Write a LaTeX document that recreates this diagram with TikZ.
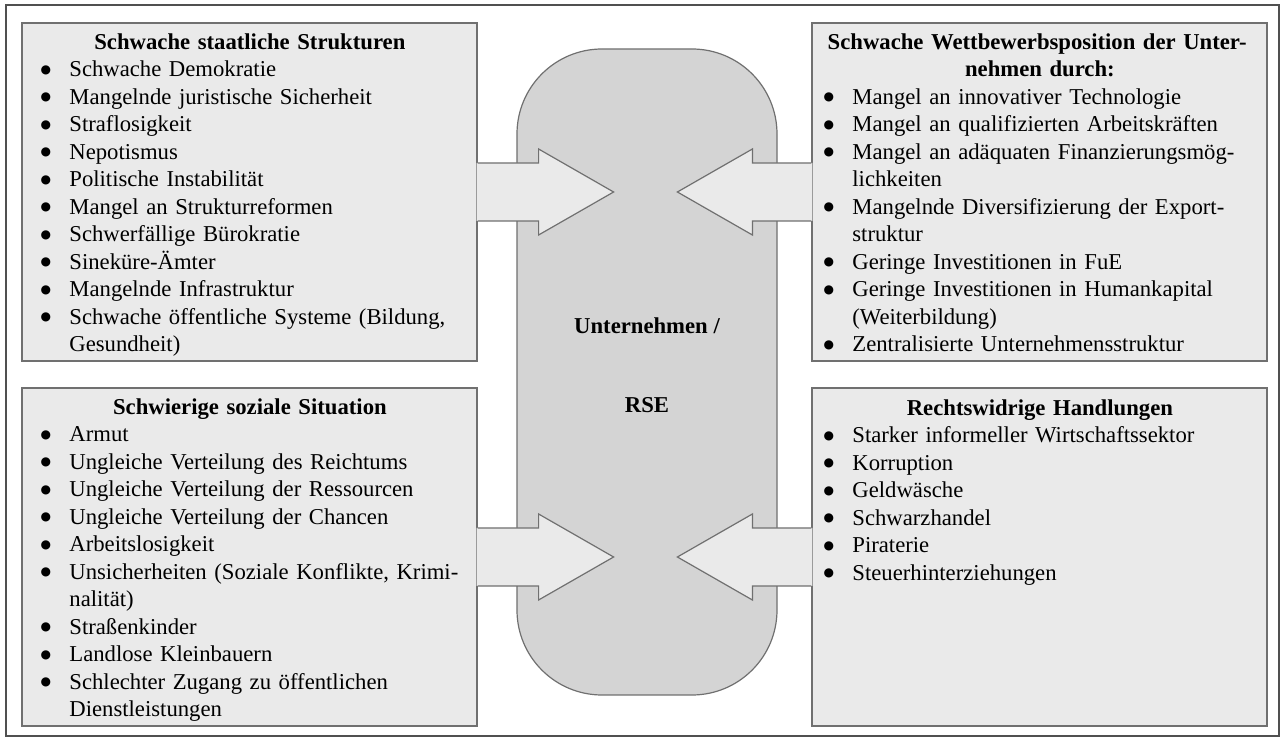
\documentclass[tikz,border=0pt]{standalone}
\usepackage{fontspec}
\setmainfont{Liberation Serif}
\newfontfamily\dotfont{DejaVu Sans}
\usetikzlibrary{calc}

\definecolor{paneFill}{RGB}{234,234,234}
\definecolor{coreFill}{RGB}{212,212,212}
\definecolor{edgeGray}{RGB}{112,112,112}
\definecolor{frameGray}{RGB}{80,80,80}

% bulleted entry, optional continuation lines, centred bold heading
\newcommand\bdot{\raisebox{1.8pt}{\fontsize{6pt}{6pt}\dotfont ●}}
\newcommand\bitem[1]{\par\noindent\hangindent=15pt\hangafter=1\strut\makebox[15pt][l]{\hspace{0.6pt}\bdot}\mbox{#1}}
\newcommand\bmore[1]{\newline\strut\mbox{#1}}
\newcommand\btitle[1]{{\noindent\centering\bfseries\strut#1\par}}

% broad block arrow: #1 start, #2 tip, #3 direction (1 = right, -1 = left)
\newcommand\fatarrow[3]{%
  \fill[fatFill] ($(#1)+(-1*#3,-29)$) -- ($(#2)+(-75*#3,-29)$) -- ($(#2)+(-75*#3,-43)$) -- (#2)
    -- ($(#2)+(-75*#3,43)$) -- ($(#2)+(-75*#3,29)$) -- ($(#1)+(-1*#3,29)$) -- cycle;
  \draw[fatEdge] ($(#1)+(0,-29)$) -- ($(#2)+(-75*#3,-29)$) -- ($(#2)+(-75*#3,-43)$) -- (#2)
    -- ($(#2)+(-75*#3,43)$) -- ($(#2)+(-75*#3,29)$) -- ($(#1)+(0,29)$);}

\tikzset{
  pane/.style={draw=edgeGray, line width=0.6pt, fill=paneFill, inner sep=0pt,
    minimum width=227.5pt, minimum height=169pt},
  paneText/.style={anchor=north west, inner sep=0pt, align=left,
    font=\fontsize{11.35pt}{13.75pt}\selectfont},
  core/.style={draw=edgeGray, line width=0.6pt, fill=coreFill, rounded corners=42.5pt,
    inner sep=0pt, minimum width=130pt, minimum height=323pt},
  coreText/.style={anchor=base, inner sep=0pt, font=\fontsize{11.35pt}{13.75pt}\selectfont\bfseries},
  fatFill/.style={fill=paneFill},
  fatEdge/.style={draw=edgeGray, line width=0.6pt, line join=miter},
  frame/.style={draw=frameGray, line width=1pt},
}

\begin{document}
\begin{tikzpicture}[x=0.5pt,y=-0.5pt]
\useasboundingbox (0,0) rectangle (1282,737);
\fill[white] (0,0) rectangle (1282,737);
\draw[frame] (6,5) rectangle (1279,736);

% four cause panes and the central block
\node[pane] (tl) at (249.5,192) {};
\node[pane] (tr) at (1039.5,192) {};
\node[pane] (bl) at (249.5,557) {};
\node[pane] (br) at (1039.5,557) {};
\node[core] (core) at (647,372) {};

% arrows from every pane into the central block
\coordinate (tlTip) at ($(tl.east)+(136,0)$);
\coordinate (trTip) at ($(tr.west)+(-134,0)$);
\coordinate (blTip) at ($(bl.east)+(136,0)$);
\coordinate (brTip) at ($(br.west)+(-134,0)$);
\fatarrow{tl.east}{tlTip}{1}
\fatarrow{bl.east}{blTip}{1}
\fatarrow{tr.west}{trTip}{-1}
\fatarrow{br.west}{brTip}{-1}

\node[coreText] (unt) at (647,334) {Unternehmen /};
\node[coreText] (rse) at (647,413) {RSE};

\node[paneText, text width=210.5pt] (tlText) at (39,29.75) {%
\btitle{Schwache staatliche Strukturen}%
\bitem{Schwache Demokratie}%
\bitem{Mangelnde juristische Sicherheit}%
\bitem{Straflosigkeit}%
\bitem{Nepotismus}%
\bitem{Politische Instabilität}%
\bitem{Mangel an Strukturreformen}%
\bitem{Schwerfällige Bürokratie}%
\bitem{Sineküre-Ämter}%
\bitem{Mangelnde Infrastruktur}%
\bitem{Schwache öffentliche Systeme (Bildung,}\bmore{Gesundheit)}\par};

\node[paneText, text width=217.5pt] (trText) at (822,29.75) {%
\btitle{Schwache Wettbewerbsposition der Unter-\newline\strut nehmen durch:}%
\bitem{Mangel an innovativer Technologie}%
\bitem{Mangel an qualifizierten Arbeitskräften}%
\bitem{Mangel an adäquaten Finanzierungsmög-}\bmore{lichkeiten}%
\bitem{Mangelnde Diversifizierung der Export-}\bmore{struktur}%
\bitem{Geringe Investitionen in FuE}%
\bitem{Geringe Investitionen in Humankapital}\bmore{(Weiterbildung)}%
\bitem{Zentralisierte Unternehmensstruktur}\par};

\node[paneText, text width=210.5pt] (blText) at (39,394.75) {%
\btitle{Schwierige soziale Situation}%
\bitem{Armut}%
\bitem{Ungleiche Verteilung des Reichtums}%
\bitem{Ungleiche Verteilung der Ressourcen}%
\bitem{Ungleiche Verteilung der Chancen}%
\bitem{Arbeitslosigkeit}%
\bitem{Unsicherheiten (Soziale Konflikte, Krimi-}\bmore{nalität)}%
\bitem{Straßenkinder}%
\bitem{Landlose Kleinbauern}%
\bitem{Schlechter Zugang zu öffentlichen}\bmore{Dienstleistungen}\par};

\node[paneText, text width=217.5pt] (brText) at (822,395.75) {%
\btitle{Rechtswidrige Handlungen}%
\bitem{Starker informeller Wirtschaftssektor}%
\bitem{Korruption}%
\bitem{Geldwäsche}%
\bitem{Schwarzhandel}%
\bitem{Piraterie}%
\bitem{Steuerhinterziehungen}\par};
\end{tikzpicture}
\end{document}
